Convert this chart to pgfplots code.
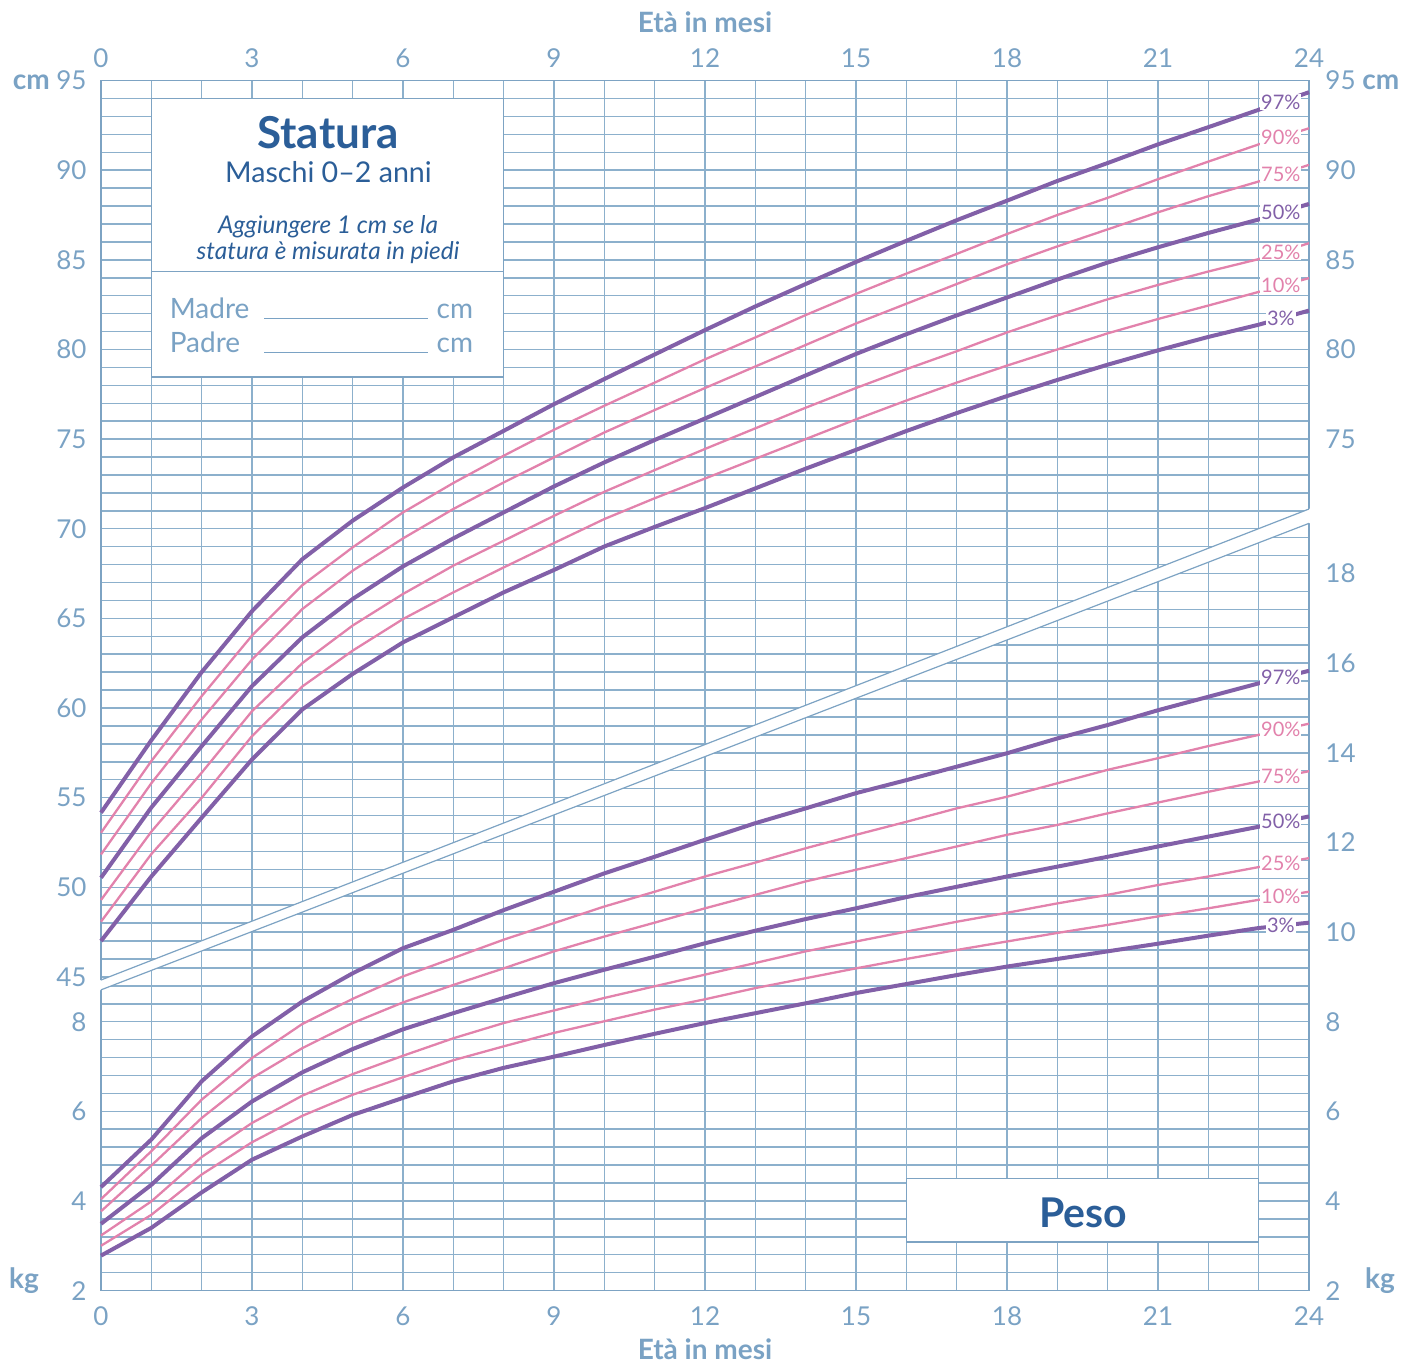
\documentclass[border=0pt]{standalone}
\usepackage{fontspec}
\setmainfont{Lato}
\usepackage{pgfplots}
\pgfplotsset{compat=1.18}
\usepackage{pgfplotstable}

\definecolor{gridblue}{RGB}{140,176,204}
\definecolor{frameblue}{RGB}{125,163,195}
\definecolor{ticklab}{RGB}{122,162,196}
\definecolor{titleblue}{RGB}{43,94,152}
\definecolor{lpurple}{RGB}{130,96,168}
\definecolor{lpink}{RGB}{226,130,172}

% Statura (cm) percentiles, boys 0-2 years
\pgfplotstableread{
m  p3    p10   p25   p50   p75   p90   p97
0  47.00 48.08 49.29 50.53 51.83 53.04 54.16
1  50.60 51.85 53.10 54.45 55.80 57.04 58.20
2  53.88 54.99 56.39 57.87 59.36 60.66 62.00
3  57.13 58.43 59.82 61.22 62.70 64.04 65.40
4  59.92 61.20 62.50 63.94 65.52 66.85 68.30
5  61.90 63.20 64.60 66.08 67.66 68.96 70.45
6  63.66 64.96 66.36 67.90 69.46 70.91 72.30
7  65.06 66.45 67.94 69.46 71.10 72.55 73.98
8  66.45 67.84 69.33 70.91 72.58 74.07 75.46
9  67.70 69.20 70.72 72.36 73.98 75.52 76.95
10 69.01 70.54 72.06 73.70 75.37 76.86 78.35
11 70.10 71.70 73.27 74.95 76.62 78.15 79.72
12 71.15 72.80 74.45 76.15 77.85 79.45 81.08
13 72.25 73.90 75.60 77.35 79.05 80.67 82.40
14 73.35 75.00 76.75 78.55 80.25 81.92 83.65
15 74.40 76.10 77.85 79.75 81.45 83.10 84.88
16 75.45 77.15 78.90 80.85 82.55 84.23 86.06
17 76.45 78.15 79.90 81.90 83.65 85.33 87.21
18 77.40 79.10 80.95 82.90 84.75 86.44 88.30
19 78.30 80.00 81.90 83.90 85.75 87.50 89.40
20 79.15 80.90 82.80 84.85 86.70 88.46 90.40
21 79.95 81.70 83.60 85.70 87.65 89.50 91.44
22 80.70 82.45 84.35 86.50 88.55 90.48 92.40
23 81.38 83.21 85.04 87.25 89.37 91.44 93.37
24 82.17 83.98 85.93 88.12 90.30 92.34 94.35
}\heights

% Peso (kg) percentiles, boys 0-2 years
\pgfplotstableread{
m  p3    p10   p25   p50   p75   p90   p97
0  2.78  3.00  3.23  3.49  3.77  4.04  4.31
1  3.40  3.69  3.99  4.36  4.79  5.11  5.37
2  4.19  4.59  4.98  5.40  5.85  6.26  6.67
3  4.92  5.31  5.74  6.22  6.74  7.19  7.67
4  5.44  5.90  6.35  6.87  7.41  7.95  8.45
5  5.92  6.37  6.83  7.39  7.97  8.51  9.08
6  6.30  6.76  7.24  7.83  8.43  9.01  9.64
7  6.67  7.14  7.63  8.19  8.82  9.42  10.05
8  6.97  7.45  7.97  8.53  9.19  9.83  10.49
9  7.22  7.75  8.25  8.86  9.57  10.20 10.90
10 7.48  8.01  8.53  9.16  9.90  10.57 11.31
11 7.73  8.27  8.79  9.45  10.21 10.90 11.68
12 7.97  8.50  9.05  9.75  10.53 11.24 12.06
13 8.19  8.75  9.31  10.03 10.83 11.55 12.43
14 8.41  8.97  9.57  10.29 11.13 11.87 12.76
15 8.64  9.19  9.79  10.53 11.39 12.17 13.10
16 8.84  9.40  10.01 10.78 11.65 12.46 13.39
17 9.04  9.60  10.23 11.01 11.91 12.76 13.69
18 9.23  9.79  10.43 11.24 12.17 13.02 13.99
19 9.40  9.98  10.64 11.46 12.39 13.32 14.32
20 9.57  10.16 10.83 11.68 12.65 13.62 14.62
21 9.74  10.35 11.05 11.91 12.89 13.88 14.95
22 9.92  10.53 11.24 12.13 13.13 14.15 15.25
23 10.09 10.72 11.45 12.35 13.36 14.40 15.55
24 10.21 10.90 11.65 12.58 13.59 14.65 15.83
}\weights

\pgfplotsset{
  base/.style={
    at={(0pt,0pt)}, anchor=south west,
    scale only axis, width=604pt, height=605pt,
    xmin=0, xmax=24, clip=false,
    axis line style={draw=none},
    major tick length=0pt,
    tick label style={font=\fontsize{13}{15}\selectfont, text=ticklab},
  },
}
\tikzset{
  p97/.style={lpurple, line width=2pt, line join=round},
  pthin/.style={lpink, line width=1.15pt, line join=round},
  plab/.style={fill=white, inner sep=0.5pt, font=\fontsize{10}{12}\selectfont},
  gl/.style={gridblue, line width=0.75pt},
}

\begin{document}
\begin{tikzpicture}
\path[use as bounding box] (-50.5pt,-36.5pt) rectangle (652pt,645.3pt);

% ---------- Axis A: kg scale (left), bottom months, all background ----------
\begin{axis}[base, ymin=2, ymax=29,
  xtick={0,3,...,24}, xticklabels={0,3,6,9,12,15,18,21,24},
  xticklabel style={yshift=-4.5pt},
  ytick={2,4,6,8}, yticklabels={2,4,6,8},
  yticklabel style={xshift=-3.7pt},
  xlabel={Età in mesi},
  xlabel style={font=\bfseries\fontsize{14}{16}\selectfont, text=ticklab, inner sep=0pt,
    at={(axis description cs:0.5,0)}, anchor=center, yshift=-29.5pt},
]
% vertical grid
\pgfplotsinvokeforeach{1,...,23}{\draw[gl] (axis cs:#1,2) -- (axis cs:#1,29);}
% cm grid (above the band)
\begin{scope}
\clip (axis cs:0,8.93) -- (axis cs:24,19.44) -- (axis cs:24,29) -- (axis cs:0,29) -- cycle;
\pgfplotsinvokeforeach{9,9.4,...,28.7}{\draw[gl] (axis cs:0,#1) -- (axis cs:24,#1);}
\end{scope}
% kg grid (below the band)
\begin{scope}
\clip (axis cs:0,2) -- (axis cs:24,2) -- (axis cs:24,19.12) -- (axis cs:0,8.71) -- cycle;
\pgfplotsinvokeforeach{2.4,2.8,...,19.3}{\draw[gl] (axis cs:0,#1) -- (axis cs:24,#1);}
\end{scope}
% frame
\draw[frameblue, line width=0.9pt] (axis cs:0,2) rectangle (axis cs:24,29);
% white band between the two scales
\fill[white] (axis cs:-0.05,8.688) -- (axis cs:24.05,19.142) -- (axis cs:24.05,19.462) -- (axis cs:-0.05,8.908) -- cycle;
\draw[frameblue, line width=0.6pt] (axis cs:0,8.71) -- (axis cs:24,19.12);
\draw[frameblue, line width=0.6pt] (axis cs:0,8.93) -- (axis cs:24,19.44);

% Statura box
\draw[frameblue, line width=0.8pt, fill=white] (axis cs:1,22.38) rectangle (axis cs:8,28.6);
\draw[frameblue, line width=0.8pt] (axis cs:1,24.74) -- (axis cs:8,24.74);
\node[anchor=base, inner sep=0, text=titleblue, font=\bfseries\fontsize{22}{26}\selectfont] at (axis cs:4.51,27.48) {Statura};
\node[anchor=base, inner sep=0, text=titleblue, font=\fontsize{14.3}{16}\selectfont] at (axis cs:4.52,26.73) {Maschi 0–2 anni};
\node[anchor=base, inner sep=0, text=titleblue, font=\itshape\fontsize{12.2}{14}\selectfont] at (axis cs:4.51,25.59) {Aggiungere 1 cm se la};
\node[anchor=base, inner sep=0, text=titleblue, font=\itshape\fontsize{12.2}{14}\selectfont] at (axis cs:4.51,25.01) {statura è misurata in piedi};
\node[anchor=base west, inner sep=0, text=ticklab, font=\fontsize{14}{16}\selectfont] at (axis cs:1.36,23.69) {Madre};
\node[anchor=base west, inner sep=0, text=ticklab, font=\fontsize{14}{16}\selectfont] at (axis cs:1.36,22.94) {Padre};
\draw[ticklab, line width=0.6pt] (axis cs:3.24,23.69) -- (axis cs:6.50,23.69);
\draw[ticklab, line width=0.6pt] (axis cs:3.24,22.94) -- (axis cs:6.50,22.94);
\node[anchor=base west, inner sep=0, text=ticklab, font=\fontsize{14}{16}\selectfont] at (axis cs:6.66,23.69) {cm};
\node[anchor=base west, inner sep=0, text=ticklab, font=\fontsize{14}{16}\selectfont] at (axis cs:6.66,22.94) {cm};

% Peso box
\draw[frameblue, line width=0.8pt, fill=white] (axis cs:16,3.08) rectangle (axis cs:23,4.5);
\node[anchor=base, inner sep=0, text=titleblue, font=\bfseries\fontsize{20.5}{24}\selectfont] at (axis cs:19.51,3.40) {Peso};

% weight curves
\addplot[p97]   table[x=m, y=p97] {\weights};
\addplot[pthin] table[x=m, y=p90] {\weights};
\addplot[pthin] table[x=m, y=p75] {\weights};
\addplot[p97]   table[x=m, y=p50] {\weights};
\addplot[pthin] table[x=m, y=p25] {\weights};
\addplot[pthin] table[x=m, y=p10] {\weights};
\addplot[p97]   table[x=m, y=p3]  {\weights};
\node[plab, text=lpurple] at (axis cs:23.44,15.68) {97\%};
\node[plab, text=lpink]   at (axis cs:23.44,14.52) {90\%};
\node[plab, text=lpink]   at (axis cs:23.44,13.47) {75\%};
\node[plab, text=lpurple] at (axis cs:23.44,12.46) {50\%};
\node[plab, text=lpink]   at (axis cs:23.44,11.54) {25\%};
\node[plab, text=lpink]   at (axis cs:23.44,10.80) {10\%};
\node[plab, text=lpurple] at (axis cs:23.44,10.15) {3\%};
\end{axis}

% ---------- Axis C: cm scale (left) with height curves ----------
\begin{axis}[base, ymin=27.5, ymax=95,
  xtick=\empty,
  ytick={45,50,...,95}, yticklabels={45,50,55,60,65,70,75,80,85,90,{\fontsize{14}{16}\selectfont\bfseries cm}\ 95},
  yticklabel style={xshift=-3.7pt},
]
\addplot[p97]   table[x=m, y=p97] {\heights};
\addplot[pthin] table[x=m, y=p90] {\heights};
\addplot[pthin] table[x=m, y=p75] {\heights};
\addplot[p97]   table[x=m, y=p50] {\heights};
\addplot[pthin] table[x=m, y=p25] {\heights};
\addplot[pthin] table[x=m, y=p10] {\heights};
\addplot[p97]   table[x=m, y=p3]  {\heights};
\node[plab, text=lpurple] at (axis cs:23.44,93.81) {97\%};
\node[plab, text=lpink]   at (axis cs:23.44,91.84) {90\%};
\node[plab, text=lpink]   at (axis cs:23.44,89.79) {75\%};
\node[plab, text=lpurple] at (axis cs:23.44,87.64) {50\%};
\node[plab, text=lpink]   at (axis cs:23.44,85.44) {25\%};
\node[plab, text=lpink]   at (axis cs:23.44,83.56) {10\%};
\node[plab, text=lpurple] at (axis cs:23.44,81.74) {3\%};
\end{axis}

% ---------- Axis D: cm scale (right) ----------
\begin{axis}[base, ymin=27.5, ymax=95,
  xtick=\empty,
  ytick={75,80,...,95}, yticklabels={75,80,85,90,95\ {\fontsize{14}{16}\selectfont\bfseries cm}},
  yticklabel pos=right,
  yticklabel style={xshift=4.7pt},
]
\end{axis}

% ---------- Axis B: kg scale (right), top months ----------
\begin{axis}[base, ymin=2, ymax=29,
  xtick={0,3,...,24}, xticklabels={0,3,6,9,12,15,18,21,24},
  xticklabel pos=top,
  xticklabel style={yshift=2.8pt},
  ytick={2,4,...,18}, yticklabels={2,4,6,8,10,12,14,16,18},
  yticklabel pos=right,
  yticklabel style={xshift=4.7pt},
  xlabel={Età in mesi},
  xlabel style={font=\bfseries\fontsize{14}{16}\selectfont, text=ticklab, inner sep=0pt,
    at={(axis description cs:0.5,1)}, anchor=center, yshift=29pt},
]
\end{axis}

\node[text=ticklab, font=\bfseries\fontsize{14}{16}\selectfont] at (-38.5pt,5pt) {kg};
\node[text=ticklab, font=\bfseries\fontsize{14}{16}\selectfont] at (639.5pt,5pt) {kg};
\end{tikzpicture}
\end{document}
